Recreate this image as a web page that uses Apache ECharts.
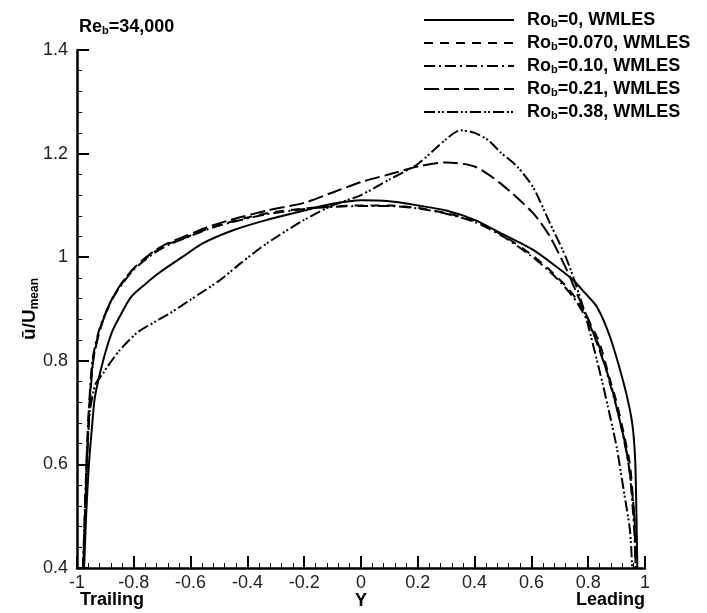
<!DOCTYPE html>
<html>
<head>
<meta charset="utf-8">
<script src="https://cdn.jsdelivr.net/npm/echarts@6/dist/echarts.min.js"></script>
<style>
html,body{margin:0;padding:0;background:#fff;}
#c{width:707px;height:613px;}
</style>
</head>
<body>
<div id="c"></div>
<script>
// ---- data ----
var seriesNames = ['Ro_b=0, WMLES', 'Ro_b=0.070, WMLES', 'Ro_b=0.10, WMLES', 'Ro_b=0.21, WMLES', 'Ro_b=0.38, WMLES'];
var xTicks = [-1, -0.8, -0.6, -0.4, -0.2, 0, 0.2, 0.4, 0.6, 0.8, 1];
var yTicks = [0.4, 0.6, 0.8, 1, 1.2, 1.4];

var ro000 = [[-0.975,0.4],[-0.968,0.5],[-0.958,0.6],[-0.946,0.68],[-0.937,0.73],[-0.908,0.80],[-0.878,0.854],[-0.85,0.885],[-0.81,0.923],[-0.76,0.948],[-0.708,0.971],[-0.63,1.0],[-0.556,1.027],[-0.45,1.052],[-0.331,1.072],[-0.2,1.09],[-0.1,1.103],[0,1.11],[0.1,1.108],[0.2,1.1],[0.3,1.09],[0.4,1.072],[0.49,1.047],[0.606,1.014],[0.68,0.985],[0.747,0.956],[0.79,0.93],[0.831,0.904],[0.877,0.846],[0.922,0.763],[0.945,0.71],[0.958,0.666],[0.966,0.6],[0.97,0.5],[0.973,0.4]];
var ro007 = [[-0.978,0.4],[-0.972,0.5],[-0.966,0.6],[-0.958,0.7],[-0.944,0.8],[-0.925,0.85],[-0.908,0.879],[-0.88,0.915],[-0.85,0.943],[-0.8,0.978],[-0.733,1.008],[-0.68,1.025],[-0.613,1.039],[-0.54,1.055],[-0.46,1.068],[-0.331,1.085],[-0.2,1.094],[-0.1,1.098],[0,1.1],[0.1,1.1],[0.2,1.095],[0.3,1.085],[0.4,1.07],[0.5,1.042],[0.6,1.005],[0.665,0.975],[0.72,0.945],[0.76,0.918],[0.8,0.88],[0.84,0.834],[0.877,0.763],[0.9,0.72],[0.925,0.66],[0.947,0.6],[0.958,0.53],[0.965,0.473],[0.968,0.4]];
var ro010 = [[-0.979,0.4],[-0.973,0.5],[-0.967,0.6],[-0.959,0.7],[-0.946,0.8],[-0.927,0.85],[-0.91,0.878],[-0.882,0.913],[-0.852,0.94],[-0.8,0.976],[-0.733,1.006],[-0.68,1.023],[-0.613,1.038],[-0.54,1.054],[-0.46,1.067],[-0.331,1.083],[-0.2,1.093],[-0.1,1.097],[0,1.099],[0.1,1.099],[0.2,1.094],[0.3,1.084],[0.4,1.068],[0.5,1.04],[0.6,1.002],[0.665,0.972],[0.72,0.941],[0.76,0.913],[0.8,0.874],[0.84,0.826],[0.877,0.755],[0.9,0.71],[0.925,0.65],[0.945,0.59],[0.956,0.52],[0.963,0.465],[0.966,0.4]];
var ro021 = [[-0.978,0.4],[-0.972,0.5],[-0.966,0.6],[-0.957,0.7],[-0.943,0.8],[-0.924,0.85],[-0.907,0.88],[-0.88,0.916],[-0.85,0.944],[-0.8,0.979],[-0.733,1.01],[-0.68,1.027],[-0.613,1.042],[-0.54,1.058],[-0.46,1.072],[-0.331,1.09],[-0.2,1.105],[-0.1,1.125],[0,1.145],[0.1,1.16],[0.2,1.175],[0.3,1.183],[0.4,1.175],[0.49,1.143],[0.606,1.085],[0.665,1.04],[0.725,0.975],[0.76,0.93],[0.8,0.88],[0.84,0.82],[0.877,0.76],[0.9,0.71],[0.93,0.64],[0.95,0.57],[0.962,0.5],[0.967,0.4]];
var ro038 = [[-0.978,0.4],[-0.972,0.5],[-0.965,0.6],[-0.955,0.7],[-0.935,0.755],[-0.908,0.776],[-0.894,0.788],[-0.85,0.82],[-0.789,0.854],[-0.72,0.877],[-0.672,0.892],[-0.6,0.918],[-0.496,0.956],[-0.42,0.99],[-0.331,1.027],[-0.2,1.072],[-0.1,1.1],[0,1.12],[0.1,1.15],[0.2,1.18],[0.3,1.228],[0.35,1.245],[0.4,1.24],[0.45,1.225],[0.49,1.203],[0.55,1.175],[0.606,1.135],[0.665,1.066],[0.725,0.995],[0.782,0.904],[0.842,0.776],[0.87,0.71],[0.9,0.634],[0.925,0.55],[0.947,0.473],[0.955,0.4]];

var seriesData = [ro000, ro007, ro010, ro021, ro038];
var dashTypes = ['solid', [9, 7], [11, 4, 2, 4], [15, 5], [11, 3, 2, 2, 2, 3]];

// ---- chart ----
var chart = echarts.init(document.getElementById('c'), null, {renderer: 'canvas'});
var FONT = 'Liberation Sans, Arial, sans-serif';

function richName(name) {
  var parts = name.split('_b');
  return '{m|' + parts[0] + '}{s|b}{m|' + parts[1] + '}';
}

var series = seriesNames.map(function (n, i) {
  return {
    name: n,
    type: 'line',
    data: seriesData[i],
    showSymbol: false,
    symbol: 'none',
    smooth: 0.25,
    lineStyle: {color: '#000', width: 2, type: dashTypes[i]},
    itemStyle: {color: '#000'},
    z: 5 - i
  };
});

chart.setOption({
  animation: false,
  backgroundColor: '#fff',
  grid: {left: 77, right: 62, top: 50, bottom: 45, containLabel: false, outerBoundsMode: 'none'},
  legend: {
    orient: 'vertical',
    left: 418,
    top: 3,
    itemWidth: 90,
    itemHeight: 18,
    itemGap: 2,
    data: seriesNames,
    formatter: richName,
    itemStyle: {color: 'rgba(0,0,0,0)', borderColor: 'rgba(0,0,0,0)', borderWidth: 0, opacity: 0},
    textStyle: {
      padding: [0, 0, 0, 8],
      rich: {
        m: {fontFamily: FONT, fontSize: 18, fontWeight: 'bold', color: '#000', lineHeight: 18},
        s: {fontFamily: FONT, fontSize: 11, fontWeight: 'bold', color: '#000', lineHeight: 18, verticalAlign: 'bottom', padding: [10, 0, 0, 0]}
      }
    }
  },
  xAxis: {
    type: 'value',
    min: -1, max: 1, interval: 0.2,
    name: 'Y',
    nameLocation: 'middle',
    nameGap: 24,
    nameMoveOverlap: false,
    nameTextStyle: {fontFamily: FONT, fontSize: 18, fontWeight: 'bold', color: '#000'},
    axisLine: {onZero: false, lineStyle: {color: '#000', width: 2.5}},
    axisTick: {inside: true, length: 12, lineStyle: {color: '#000', width: 2}},
    minorTick: {show: true, splitNumber: 5, length: 5, lineStyle: {color: '#000', width: 1}},
    splitLine: {show: false},
    axisLabel: {fontFamily: FONT, fontSize: 18, color: '#222', margin: 6,
      formatter: function (v) { return String(Math.round(v * 10) / 10); }}
  },
  yAxis: {
    type: 'value',
    min: 0.4, max: 1.4, interval: 0.2,
    name: '{u|ū/U}{s|mean}',
    nameLocation: 'middle',
    nameRotate: 90,
    nameGap: 36,
    nameMoveOverlap: false,
    nameTextStyle: {
      rich: {
        u: {fontFamily: FONT, fontSize: 19, fontWeight: 'bold', color: '#000', lineHeight: 22},
        s: {fontFamily: FONT, fontSize: 12, fontWeight: 'bold', color: '#000', lineHeight: 22, verticalAlign: 'bottom', padding: [12, 0, 0, 0]}
      }
    },
    axisLine: {onZero: false, lineStyle: {color: '#000', width: 2.5}},
    axisTick: {inside: true, length: 12, lineStyle: {color: '#000', width: 2}},
    minorTick: {show: true, splitNumber: 5, length: 5, lineStyle: {color: '#000', width: 1}},
    splitLine: {show: false},
    axisLabel: {fontFamily: FONT, fontSize: 18, color: '#222', margin: 9,
      formatter: function (v) { return String(Math.round(v * 10) / 10); }}
  },
  graphic: [
    {type: 'text', left: 79, top: 15, style: {text: '{m|Re}{s|b}{m|=34,000}', rich: {
      m: {fontFamily: FONT, fontSize: 18, fontWeight: 'bold', fill: '#000', lineHeight: 18},
      s: {fontFamily: FONT, fontSize: 11, fontWeight: 'bold', fill: '#000', lineHeight: 18, verticalAlign: 'bottom', padding: [10, 0, 0, 0]}
    }}},
    {type: 'text', left: 80, top: 591, style: {text: 'Trailing', fontFamily: FONT, fontSize: 18, fontWeight: 'bold', fill: '#000'}},
    {type: 'text', right: 62, top: 591, style: {text: 'Leading', fontFamily: FONT, fontSize: 18, fontWeight: 'bold', fill: '#000'}}
  ],
  series: series
});
</script>
</body>
</html>
